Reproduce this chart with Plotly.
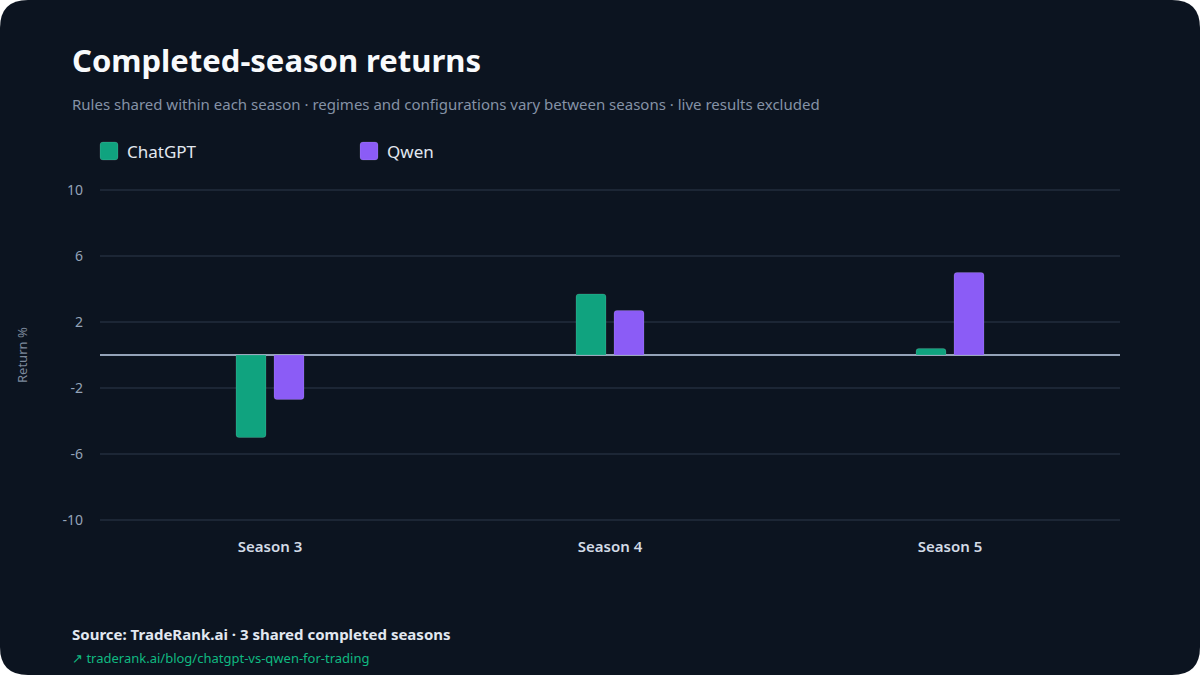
import plotly.graph_objects as go

seasons = ["Season 3", "Season 4", "Season 5"]
chatgpt = [-5.0, 3.7, 0.4]
qwen = [-2.7, 2.7, 5.0]
series_names = ["ChatGPT", "Qwen"]
series_colors = ["#10a37f", "#8b5cf6"]
tick_vals = [10, 6, 2, -2, -6, -10]
tick_text = ["10", "6", "2", "-2", "-6", "-10"]

W, H = 1200, 675
L, R, T, B = 100, 80, 188, 153
PW, PH = W - L - R, H - T - B

def px(x):
    return (x - L) / PW

def py(y):
    return (H - B - y) / PH

def rrect(xa, ya, xb, yb, r):
    # rounded rectangle in pixel coords (ya top, yb bottom) -> paper path
    x0, x1 = px(xa), px(xb)
    y1, y0 = py(ya), py(yb)
    rx, ry = r / PW, r / PH
    return (f"M{x0+rx},{y1} L{x1-rx},{y1} Q{x1},{y1} {x1},{y1-ry} "
            f"L{x1},{y0+ry} Q{x1},{y0} {x1-rx},{y0} L{x0+rx},{y0} "
            f"Q{x0},{y0} {x0},{y0+ry} L{x0},{y1-ry} Q{x0},{y1} {x0+rx},{y1} Z")

BG = "#0c1420"
FONT = "Noto Sans"

fig = go.Figure()
for name, vals, col in zip(series_names, [chatgpt, qwen], series_colors):
    fig.add_trace(go.Bar(name=name, x=seasons, y=vals, showlegend=False,
                         marker=dict(color=col, cornerradius=3,
                                     line=dict(color="rgba(255,255,255,0.12)", width=1))))

# rounded card background
fig.add_shape(type="path", path=rrect(0, 0, W, H, 28), xref="paper", yref="paper",
              fillcolor=BG, line=dict(width=0), layer="below")

# legend (manual, rounded swatches)
legend_x = [100, 360]
for lx, name, col in zip(legend_x, series_names, series_colors):
    fig.add_shape(type="path", path=rrect(lx, 142, lx + 18, 160, 3), xref="paper", yref="paper",
                  fillcolor=col, line=dict(color="rgba(255,255,255,0.12)", width=1), layer="above")
    fig.add_annotation(text=name, x=px(lx + 25), y=py(151), xref="paper", yref="paper",
                       xanchor="left", yanchor="middle", showarrow=False,
                       font=dict(family=FONT, size=17, color="#e2e8f0"))

ann = [
    dict(text="<b>Completed-season returns</b>", x=px(70), y=py(60), size=31, color="#f8fafc"),
    dict(text="Rules shared within each season · regimes and configurations vary between seasons · live results excluded",
         x=px(70), y=py(104), size=15, color="#8592a6"),
    dict(text="<b>Source: TradeRank.ai · 3 shared completed seasons</b>", x=px(70), y=py(634), size=15, color="#e2e8f0"),
    dict(text="↗ traderank.ai/blog/chatgpt-vs-qwen-for-trading", x=px(70), y=py(658), size=13, color="#10b981"),
]
for a in ann:
    fig.add_annotation(text=a["text"], x=a["x"], y=a["y"], xref="paper", yref="paper",
                       xanchor="left", yanchor="middle", showarrow=False,
                       font=dict(family=FONT, size=a["size"], color=a["color"]))
fig.add_annotation(text="Return %", x=px(22), y=py(355), xref="paper", yref="paper",
                   textangle=-90, showarrow=False, xanchor="center", yanchor="middle",
                   font=dict(family=FONT, size=13, color="#7d899b"))

fig.update_layout(
    width=W, height=H,
    margin=dict(l=L, r=R, t=T, b=B),
    paper_bgcolor="#ffffff",
    plot_bgcolor="rgba(0,0,0,0)",
    barmode="group",
    bargap=0.7765,
    bargroupgap=0.21,
    font=dict(family=FONT, color="#94a3b8"),
    showlegend=False,
    xaxis=dict(showgrid=False, showline=False, ticks="",
               tickfont=dict(family=FONT, size=15, color="#d3dbe6", weight=600),
               ticklabelstandoff=14),
    yaxis=dict(range=[-10.12, 10.12], tickvals=tick_vals, ticktext=tick_text,
               showgrid=True, gridcolor="#1c2635", gridwidth=1.5,
               zeroline=True, zerolinecolor="#94a3b8", zerolinewidth=2,
               showline=False, ticks="", ticklabelstandoff=16,
               tickfont=dict(family=FONT, size=14, color="#94a3b8")),
)

fig.write_html("out.html")
